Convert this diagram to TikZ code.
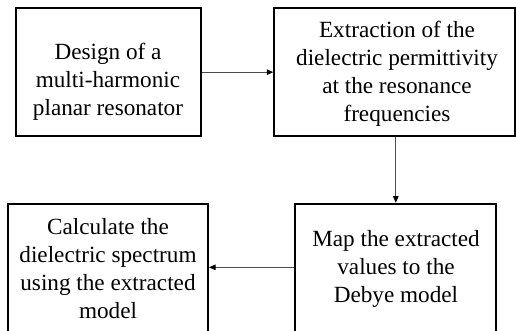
\documentclass[tikz,border=0pt]{standalone}
\usepackage{fontspec}
\setmainfont{Liberation Serif}
\usetikzlibrary{arrows.meta,calc}
\begin{document}
\begin{tikzpicture}[x=1pt,y=1pt,
  box/.style={draw=black,line width=2pt,rectangle,inner sep=0pt},
  txt/.style={align=center,inner sep=0pt,font=\fontsize{23.2}{28}\selectfont},
  conn/.style={draw=black!70,line width=0.8pt,-{Triangle[length=6.5pt,width=5.5pt,black]}}]
\useasboundingbox (0,0) rectangle (516,-331);
\clip (0,0) rectangle (516,-331);
\node[box,minimum width=184.7pt,minimum height=127.7pt] (b1) at (108.35,-72.15) {};
\node[box,minimum width=240.7pt,minimum height=127.7pt] (b2) at (394.65,-72.15) {};
\node[box,minimum width=201pt,minimum height=129.3pt] (b3) at (395.8,-268.35) {};
\node[box,minimum width=200.3pt,minimum height=129.3pt] (b4) at (107.85,-268.35) {};
\node[txt] (t1) at (108,-81.9) {\strut Design of a\\\strut multi-harmonic\\\strut planar resonator};
\node[txt] (t2) at (397,-74.1) {\strut Extraction of the\\\strut dielectric permittivity\\\strut at the resonance\\\strut frequencies};
\node[txt] (t3) at (396,-269.2) {\strut Map the extracted\\\strut values to the\\\strut Debye model};
\node[txt] (t4) at (108,-270.4) {\strut Calculate the\\\strut dielectric spectrum\\\strut using the extracted\\\strut model};
\draw[conn] (b1.east) -- (b1.east -| b2.west);
\draw[conn] (b2.south -| b3.north) -- (b3.north);
\draw[conn] ($(b3.west)+(0,1)$) -- ($(b3.west -| b4.east)+(0,1)$);
\end{tikzpicture}
\end{document}
